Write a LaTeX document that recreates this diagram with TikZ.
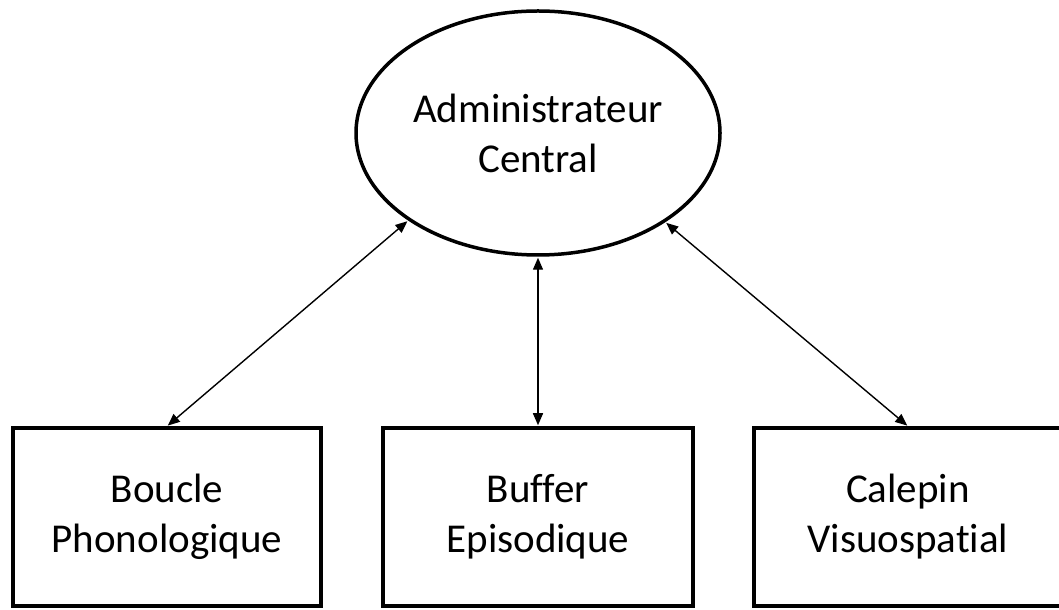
\documentclass[tikz,border=0pt]{standalone}
\usepackage{fontspec}
\setmainfont{Carlito}[Ligatures=CommonOff]
\usetikzlibrary{arrows.meta,positioning,shapes.geometric}

\begin{document}
\begin{tikzpicture}[>={Triangle[length=12bp,width=10bp]},
  comp/.style={draw,line width=3.5bp,align=center,inner sep=0pt,
    font=\fontsize{41bp}{50bp}\selectfont},
  link/.style={<->,line width=1.4bp,shorten <=1bp,shorten >=1bp}]
%%
  \clip (0bp,0bp) rectangle (1059bp,610bp);
  \node (admin) at (538.0bp,477.0bp) [comp,ellipse,minimum width=364bp,minimum height=244bp] {Administrateur\\Central};
  \node (boucle) at (167.0bp,93.0bp) [comp,rectangle,minimum width=308bp,minimum height=178bp] {Boucle\\Phonologique};
  \node (buffer) at (538.0bp,93.0bp) [comp,rectangle,minimum width=310bp,minimum height=178bp] {Buffer\\Episodique};
  \node (calepin) at (908.0bp,93.0bp) [comp,rectangle,minimum width=308bp,minimum height=178bp] {Calepin\\Visuospatial};
  \draw [link] (boucle.north) -- (admin.214);
  \draw [link] (buffer.north) -- (admin.south);
  \draw [link] (calepin.north) -- (admin.325);
%
\end{tikzpicture}
\end{document}
